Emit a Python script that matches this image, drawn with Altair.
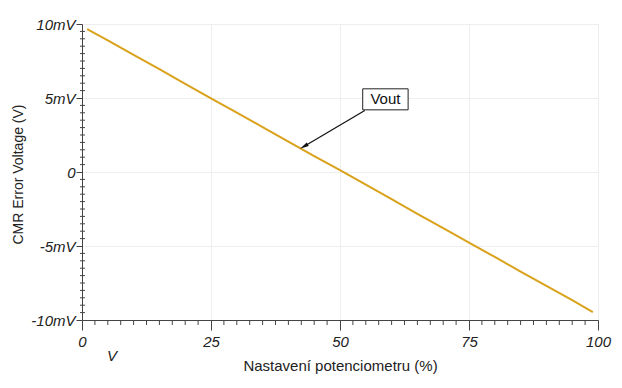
import altair as alt
import pandas as pd

# Data
pot = [1, 5, 10, 15, 20, 25, 30, 35, 40, 45, 50, 55, 60, 65, 70, 75, 80, 85, 90, 95, 99]
cmr_mv = [9.66, 8.90, 7.92, 6.95, 5.96, 4.98, 4.02, 3.04, 2.06, 1.07, 0.12, -0.86,
          -1.84, -2.83, -3.80, -4.78, -5.74, -6.73, -7.70, -8.66, -9.46]

x_major = [0, 25, 50, 75, 100]
y_major = [-10, -5, 0, 5, 10]
x_minor = [2.5, 5, 7.5, 10, 12.5, 15, 17.5, 20, 22.5, 27.5, 30, 32.5, 35, 37.5, 40, 42.5,
           45, 47.5, 52.5, 55, 57.5, 60, 62.5, 65, 67.5, 70, 72.5, 77.5, 80, 82.5, 85,
           87.5, 90, 92.5, 95, 97.5]
y_minor = [-9.5, -9, -8.5, -8, -7.5, -7, -6.5, -6, -5.5, -4.5, -4, -3.5, -3, -2.5, -2,
           -1.5, -1, -0.5, 0.5, 1, 1.5, 2, 2.5, 3, 3.5, 4, 4.5, 5.5, 6, 6.5, 7, 7.5, 8,
           8.5, 9, 9.5]

label_text = ["Vout"]
label_x = [58.8]
label_y = [4.92]
box_x1, box_x2 = [54.4], [63.2]
box_y1, box_y2 = [5.62], [4.2]
arrow_x1, arrow_y1 = [54.8], [4.15]
arrow_x2, arrow_y2 = [43.0], [1.72]

df = pd.DataFrame({"pot": pot, "cmr": cmr_mv})
FONT = "Liberation Sans"
LINE_COLOR = "#D9A21B"
AXIS_COLOR = "#444444"

xs = alt.Scale(domain=[0, 100], nice=False, zero=False)
ys = alt.Scale(domain=[-10, 10], nice=False, zero=False)

main = alt.Chart(df).mark_line(color=LINE_COLOR, strokeWidth=2).encode(
    x=alt.X("pot:Q", scale=xs, axis=alt.Axis(
        orient="bottom", values=x_major, title="Nastavení potenciometru (%)",
        grid=True, gridColor="#eeeeee", domainColor=AXIS_COLOR, tickColor=AXIS_COLOR,
        tickSize=10, labelPadding=4, labelFlush=False, labelFont=FONT, labelFontSize=15,
        labelFontStyle="italic", labelColor="#222222", titleFont=FONT,
        titleFontSize=15, titleFontWeight="normal", titleColor="#222222",
        titlePadding=9)),
    y=alt.Y("cmr:Q", scale=ys, axis=alt.Axis(
        orient="left", values=y_major, title="CMR Error Voltage (V)",
        labelExpr="datum.value == 0 ? '0' : datum.value + 'mV'",
        grid=True, gridColor="#eeeeee", domainColor=AXIS_COLOR, tickColor=AXIS_COLOR,
        tickSize=6, labelPadding=1, labelFlush=False, labelFont=FONT, labelFontSize=15,
        labelFontStyle="italic", labelColor="#222222", titleFont=FONT,
        titleFontSize=14, titleFontWeight="normal", titleColor="#222222",
        titleX=-57, titleY=150)),
)

# minor tick stubs: position along the axis comes through the shared scale
xminor = alt.Chart(pd.DataFrame({"xm": x_minor})).mark_rule(
    color=AXIS_COLOR, strokeWidth=1, opacity=1).encode(
    x="xm:Q",
    y=alt.value(296), y2=alt.value(301),
)

yminor = alt.Chart(pd.DataFrame({"ym": y_minor})).mark_rule(
    color=AXIS_COLOR, strokeWidth=1, opacity=1).encode(
    y="ym:Q",
    x=alt.value(-2), x2=alt.value(3),
)

box_df = pd.DataFrame({"x1": box_x1, "x2": box_x2, "y1": box_y1, "y2": box_y2})
box = alt.Chart(box_df).mark_rect(fill="white", stroke="#222222", strokeWidth=1).encode(
    x="x1:Q", x2="x2:Q", y="y1:Q", y2="y2:Q",
)

lab_df = pd.DataFrame({"t": label_text, "x": label_x, "y": label_y})
lab = alt.Chart(lab_df).mark_text(font=FONT, fontSize=15, color="#111111").encode(
    x="x:Q", y="y:Q", text="t:N",
)

arr_df = pd.DataFrame({"x1": arrow_x1, "y1": arrow_y1, "x2": arrow_x2, "y2": arrow_y2})
arrow = alt.Chart(arr_df).mark_rule(color="#111111", strokeWidth=1.2).encode(
    x="x1:Q", x2="x2:Q", y="y1:Q", y2="y2:Q",
)
head = alt.Chart(arr_df).mark_point(
    shape="M0,-1L0.45,1L-0.45,1Z", filled=True, color="#111111", opacity=1,
    size=80, angle=240).encode(
    x="x2:Q", y="y2:Q",
)

unit = alt.Chart(pd.DataFrame({"t": ["V"]})).mark_text(
    font=FONT, fontSize=15, fontStyle="italic", color="#222222").encode(
    x=alt.value(30), y=alt.value(332), text="t:N")

chart = alt.layer(main, xminor, yminor, box, lab, arrow, head, unit).properties(
    width=516, height=296,
    padding={"left": 74, "top": 16, "right": 16, "bottom": 60},
    autosize=alt.AutoSizeParams(type="none"),
).configure_view(stroke="#e4e4e4", strokeWidth=1).configure(background="white")

chart.save("out.html", embed_options={"renderer": "svg", "actions": False})
